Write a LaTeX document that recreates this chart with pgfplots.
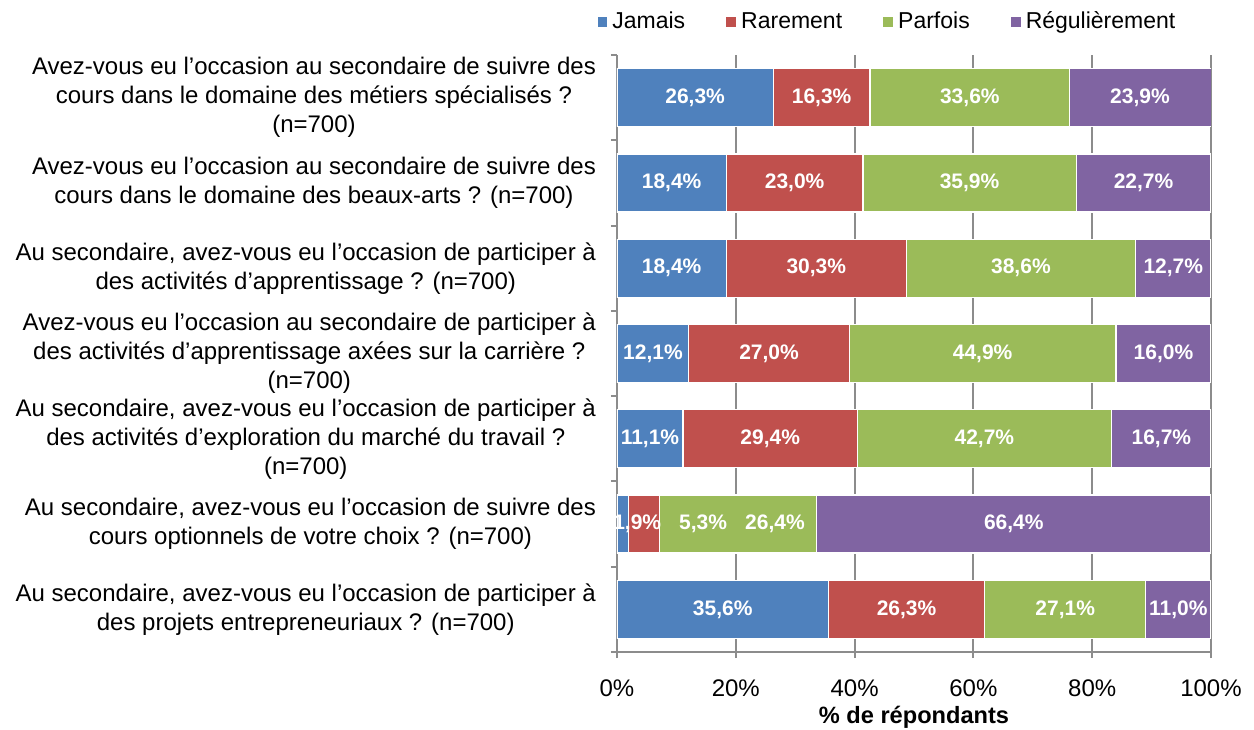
\documentclass[border=0pt]{standalone}
\usepackage{pgfplots}
\pgfplotsset{compat=1.18}
\usepackage{pgfplotstable}
\usepackage{fontspec}
\setmainfont{Liberation Sans}
\definecolor{cJ}{HTML}{4F81BD}
\definecolor{cR}{HTML}{C0504D}
\definecolor{cP}{HTML}{9BBB59}
\definecolor{cG}{HTML}{8064A2}
\definecolor{gridc}{HTML}{8C8C8C}
\pgfplotstableread{
idx J R P G
0 26.3 16.3 33.6 23.9
1 18.4 23.0 35.9 22.7
2 18.4 30.3 38.6 12.7
3 12.1 27.0 44.9 16.0
4 11.1 29.4 42.7 16.7
5 1.9 5.3 26.4 66.4
6 35.6 26.3 27.1 11.0
}\mydata
\pgfplotstablecreatecol[create col/expr={\thisrow{J}/2}]{mJ}\mydata
\pgfplotstablecreatecol[create col/expr={\thisrow{J}+\thisrow{R}/2}]{mR}\mydata
\pgfplotstablecreatecol[create col/expr={\thisrow{J}+\thisrow{R}+\thisrow{P}/2}]{mP}\mydata
\pgfplotstablecreatecol[create col/expr={100-\thisrow{G}/2}]{mG}\mydata
\pgfplotsset{
  common/.style={
    at={(0,0)}, anchor=south west,
    scale only axis, width=297pt, height=298.5pt,
    xmin=0, xmax=100, ymin=-0.5, ymax=6.5, y dir=reverse,
  },
  seglabel/.style={
    draw=none, mark=none, point meta=explicit,
    skip coords between index={5}{6},
    nodes near coords={\pgfmathprintnumber[assume math mode=true,fixed,fixed zerofill,precision=1,use comma]{\pgfplotspointmeta}\%},
    every node near coord/.append style={anchor=center, text=white, font=\fontsize{10.5}{12}\selectfont\bfseries},
  },
}
\begin{document}
\begin{tikzpicture}
\path[use as bounding box] (-308.5pt,-38.5pt) rectangle (318.5pt,326pt);
\begin{axis}[
  common,
  xbar stacked, bar width=29pt,
  axis x line*=bottom, axis y line*=left,
  axis line style={gridc, line width=1pt},
  tick style={gridc, line width=1pt},
  tick align=outside, major tick length=0pt, minor tick length=3pt,
  xtick={0,20,40,60,80,100},
  minor xtick={0,20,40,60,80,100},
  xticklabels={0\%,20\%,40\%,60\%,80\%,100\%},
  xticklabel style={font=\fontsize{12}{14}\selectfont, yshift=-10.5pt},
  xmajorgrids, grid style={gridc, line width=1pt},
  ytick={0,1,2,3,4,5,6},
  minor ytick={-0.5,0.5,1.5,2.5,3.5,4.5,5.5,6.5},
  yticklabels={
    {Avez-vous eu l’occasion au secondaire de suivre des\\cours dans le domaine des métiers spécialisés ?\\(n=700)},
    {Avez-vous eu l’occasion au secondaire de suivre des\\cours dans le domaine des beaux-arts ? (n=700)},
    {Au secondaire, avez-vous eu l’occasion de participer à\\des activités d’apprentissage ? (n=700)},
    {Avez-vous eu l’occasion au secondaire de participer à\\des activités d'apprentissage axées sur la carrière ?\\(n=700)},
    {Au secondaire, avez-vous eu l’occasion de participer à\\des activités d’exploration du marché du travail ?\\(n=700)},
    {Au secondaire, avez-vous eu l’occasion de suivre des\\cours optionnels de votre choix ? (n=700)},
    {Au secondaire, avez-vous eu l’occasion de participer à\\des projets entrepreneuriaux ? (n=700)}},
  yticklabel style={align=center, font=\fontsize{12}{14.5}\selectfont, xshift=-7pt},
  xlabel={\textbf{\% de répondants}},
  xlabel style={font=\fontsize{11.8}{13}\selectfont, yshift=2.5pt},
  legend columns=4,
  legend style={draw=none, at={(0.456,1)}, anchor=center, yshift=16.5pt,
    font=\fontsize{11.5}{13}\selectfont,
    /tikz/every even column/.append style={column sep=18pt}},
  legend image code/.code={\fill[#1] (0pt,-2.7pt) rectangle (5.4pt,2.7pt);},
]
\addplot[fill=cJ, draw=white, line width=0.6pt] table[x=J, y=idx] {\mydata};
\addplot[fill=cR, draw=white, line width=0.6pt] table[x=R, y=idx] {\mydata};
\addplot[fill=cP, draw=white, line width=0.6pt] table[x=P, y=idx] {\mydata};
\addplot[fill=cG, draw=white, line width=0.6pt] table[x=G, y=idx] {\mydata};
\legend{Jamais, Rarement, Parfois, Régulièrement}
\end{axis}
\begin{axis}[common, hide axis]
\addplot[seglabel] table[x=mJ, y=idx, meta=J] {\mydata};
\addplot[seglabel] table[x=mR, y=idx, meta=R] {\mydata};
\addplot[seglabel] table[x=mP, y=idx, meta=P] {\mydata};
\addplot[seglabel] table[x=mG, y=idx, meta=G] {\mydata};
\begin{scope}[every node/.style={text=white, font=\fontsize{10.5}{12}\selectfont\bfseries}]
\node at (axis cs:3.4,5) {1,9\%};
\node at (axis cs:14.5,5) {5,3\%};
\node at (axis cs:26.6,5) {26,4\%};
\node at (axis cs:66.8,5) {66,4\%};
\end{scope}
\end{axis}
\end{tikzpicture}
\end{document}
